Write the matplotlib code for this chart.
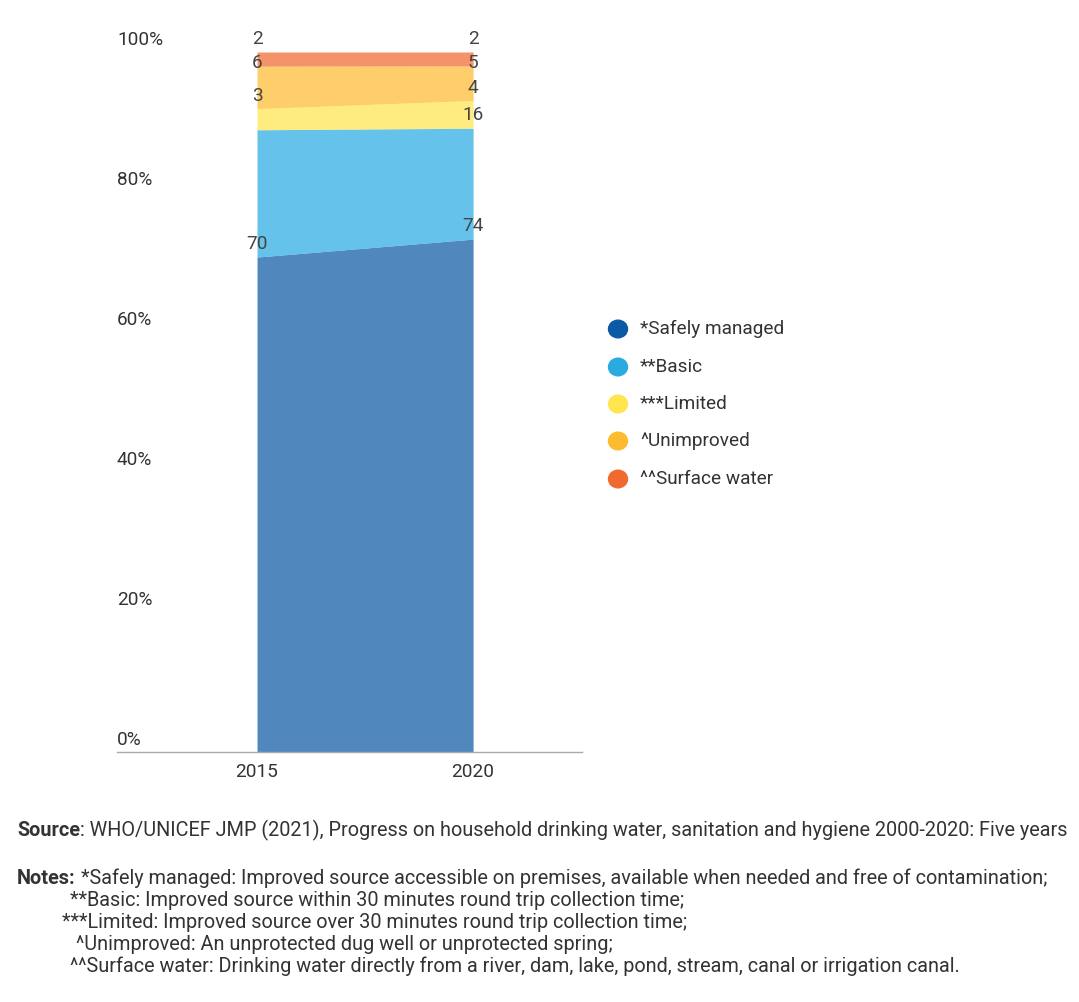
import numpy as np
import matplotlib.pyplot as plt

plt.rcParams['font.family'] = ['Roboto', 'DejaVu Sans']

years = [2015, 2020]
series = ['*Safely managed', '**Basic', '***Limited', '^Unimproved', '^^Surface water']
safely = [70, 74]
basic = [18, 16]
limited = [3, 4]
unimproved = [6, 5]
surface = [2, 2]
# the 2015 value for basic has no label in the original
show_label = [[True, True], [False, True], [True, True], [True, True], [True, True]]
colors = ['#0c5aa6', '#29abe2', '#ffe54e', '#fdbb2f', '#f06a30']

source_text = 'WHO/UNICEF JMP (2021), Progress on household drinking water, sanitation and hygiene 2000-2020: Five years'
notes = ['*Safely managed: Improved source accessible on premises, available when needed and free of contamination;',
         '**Basic: Improved source within 30 minutes round trip collection time;',
         '***Limited: Improved source over 30 minutes round trip collection time;',
         '^Unimproved: An unprotected dug well or unprotected spring;',
         '^^Surface water: Drinking water directly from a river, dam, lake, pond, stream, canal or irrigation canal.']

W, H = 1079, 1002
FS = 13.7
FS_NOTE = 14.3
fig = plt.figure(figsize=(W / 100, H / 100), dpi=100)
ax = fig.add_axes([117 / W, (H - 752) / H, (582 - 117) / W, 700 / H])

vals = np.array([safely, basic, limited, unimproved, surface], dtype=float)
pct = vals / vals.sum(axis=0) * 100
tops = np.cumsum(pct, axis=0)
bottoms = tops - pct

for i in range(len(series)):
    ax.fill_between(years, bottoms[i], tops[i], color=colors[i], alpha=0.72, lw=0)

ax.set_xlim(2011.76, 2022.52)
ax.set_ylim(0, 100)
for s in ['top', 'right', 'left']:
    ax.spines[s].set_visible(False)
ax.spines['bottom'].set_color('#aaaaaa')
ax.spines['bottom'].set_linewidth(1)
ax.set_yticks([])
ax.set_xticks(years)
ax.set_xticklabels([str(y) for y in years])
ax.tick_params(axis='x', length=0, pad=8, labelsize=FS, labelcolor='#333333')

unit_px = 700 / 100

# y labels sit above their value, left aligned
trans = ax.get_yaxis_transform()
for v in range(0, 101, 20):
    ax.text(0, v + 12 / unit_px, f'{v}%', transform=trans, ha='left', va='center',
            fontsize=FS, color='#333333')

# data labels, pushed down when they bump into the one above
for j, yr in enumerate(years):
    prev = None
    for i in range(len(series) - 1, -1, -1):
        if not show_label[i][j]:
            continue
        yc = tops[i][j] + 13 / unit_px
        if prev is not None and prev - yc < 24 / unit_px:
            yc = prev - 24 / unit_px
        prev = yc
        ax.text(yr, yc, f'{int(vals[i][j])}', ha='center', va='center',
                fontsize=FS, color='#444444')

# legend
leg_y = [329, 367, 404, 441, 479]
for i, name in enumerate(series):
    fig.patches.append(plt.Circle((618 / W, 1 - leg_y[i] / H), 9.5 / W, transform=fig.transFigure,
                                  color=colors[i], figure=fig))
    fig.text(640 / W, 1 - leg_y[i] / H, name, ha='left', va='center', fontsize=FS, color='#333333')

# source and notes
fig.canvas.draw()
renderer = fig.canvas.get_renderer()
t = fig.text(17 / W, 1 - 830 / H, 'Source', ha='left', va='center', fontsize=FS_NOTE,
             fontweight='bold', color='#333333')
bb = t.get_window_extent(renderer)
fig.text(bb.x1 / W, 1 - 830 / H, ': ' + source_text, ha='left', va='center', fontsize=FS_NOTE, color='#333333')

t = fig.text(17 / W, 1 - 878 / H, 'Notes:', ha='left', va='center', fontsize=FS_NOTE,
             fontweight='bold', color='#333333')
bb = t.get_window_extent(renderer)
fig.text(bb.x1 / W + 5 / W, 1 - 878 / H, notes[0], ha='left', va='center', fontsize=FS_NOTE, color='#333333')
note_x = [70, 62, 76, 70]
for k, line in enumerate(notes[1:]):
    fig.text(note_x[k] / W, 1 - (900 + 22 * k) / H, line, ha='left', va='center',
             fontsize=FS_NOTE, color='#333333')

fig.savefig('out.png', dpi=100)
